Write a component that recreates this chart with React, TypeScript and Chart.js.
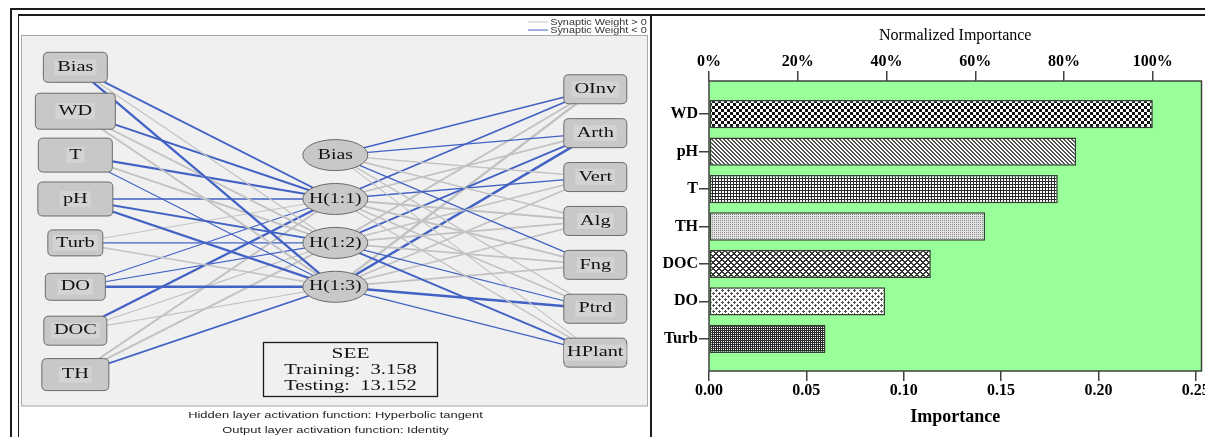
import React, { useEffect, useRef } from 'react';
import { Chart, registerables } from 'chart.js';

Chart.register(...registerables);

// ---------------- Neural network (left panel) ----------------
const inputNodes = ['Bias', 'WD', 'T', 'pH', 'Turb', 'DO', 'DOC', 'TH'];
const hiddenNodes = ['Bias', 'H(1:1)', 'H(1:2)', 'H(1:3)'];
const outputNodes = ['OInv', 'Arth', 'Vert', 'Alg', 'Fng', 'Ptrd', 'HPlant'];

// estimated synaptic weights: input -> H(1:1), H(1:2), H(1:3)
const weightsBias = [-0.7, 0.3, -0.9];
const weightsWD = [-0.7, 0.6, 0.7];
const weightsT = [-0.8, 0.7, -0.3];
const weightsPH = [-0.6, -0.7, -0.9];
const weightsTurb = [0.2, -0.4, 0.5];
const weightsDO = [-0.3, -0.3, -1.0];
const weightsDOC = [-0.9, 0.3, 0.3];
const weightsTH = [0.7, 0.8, -0.6];
const inputToHidden = [weightsBias, weightsWD, weightsT, weightsPH, weightsTurb, weightsDO, weightsDOC, weightsTH];

// estimated synaptic weights: hidden -> OInv, Arth, Vert, Alg, Fng, Ptrd, HPlant
const weightsHBias = [-0.5, -0.35, 0.4, 0.5, -0.3, 0.4, 0.3];
const weightsH1 = [-0.6, 0.6, -0.35, 0.7, 0.7, 0.5, 0.4];
const weightsH2 = [0.7, -0.6, 0.5, 0.6, 0.7, -0.35, -0.8];
const weightsH3 = [0.9, -1.0, 0.6, 0.5, 0.6, -1.0, -0.35];
const hiddenToOutput = [weightsHBias, weightsH1, weightsH2, weightsH3];

const seeTraining = 3.158;
const seeTesting = 13.152;
const hiddenActivation = 'Hyperbolic tangent';
const outputActivation = 'Identity';
const legendLabels = ['Synaptic Weight > 0', 'Synaptic Weight < 0'];

// ---------------- Importance (right panel) ----------------
const importanceLabels = ['WD', 'pH', 'T', 'TH', 'DOC', 'DO', 'Turb'];
const importanceValues = [0.2279, 0.1885, 0.1791, 0.1418, 0.1139, 0.0904, 0.0598];
const importanceTicks = [0, 0.05, 0.1, 0.15, 0.2, 0.25];
const normalizedTicks = [0, 20, 40, 60, 80, 100];

// ---------------- styles ----------------
const SERIF = '"Liberation Serif", "Times New Roman", serif';
const SANS = '"Liberation Sans", Arial, sans-serif';
const BLUE = '#4262C4';
const GRAY = '#C2C2C2';
const NODE_FILL = '#C8C8C8';
const NODE_INNER = '#D3D3D3';
const NODE_STROKE = '#6B6B6B';
const TEXT_SX = 1.45;
const inputBoxSize = [[65, 31], [81, 37], [75, 35], [76, 35], [56, 27], [61, 28], [64, 30], [68, 33]];
const outputBoxSize = [64, 30];
const hiddenRadius = [32.5, 15.5];

function layerRows(n: number) {
  const off = (inputNodes.length - n) / 2;
  return Array.from({ length: n }, (_, i) => i + off);
}

function drawText(ctx: CanvasRenderingContext2D, text: string, x: number, y: number, font: string,
  opts: { sx?: number; width?: number; align?: CanvasTextAlign; color?: string } = {}) {
  ctx.save();
  ctx.font = font;
  ctx.fillStyle = opts.color || '#111';
  ctx.textBaseline = 'middle';
  ctx.textAlign = opts.align || 'center';
  const sx = opts.width ? opts.width / ctx.measureText(text).width : (opts.sx || 1);
  ctx.translate(x, y);
  ctx.scale(sx, 1);
  ctx.fillText(text, 0, 0);
  ctx.restore();
}

function roundRect(ctx: CanvasRenderingContext2D, x: number, y: number, w: number, h: number, r: number) {
  ctx.beginPath();
  ctx.moveTo(x + r, y);
  ctx.lineTo(x + w - r, y);
  ctx.quadraticCurveTo(x + w, y, x + w, y + r);
  ctx.lineTo(x + w, y + h - r);
  ctx.quadraticCurveTo(x + w, y + h, x + w - r, y + h);
  ctx.lineTo(x + r, y + h);
  ctx.quadraticCurveTo(x, y + h, x, y + h - r);
  ctx.lineTo(x, y + r);
  ctx.quadraticCurveTo(x, y, x + r, y);
  ctx.closePath();
}

function drawBox(ctx: CanvasRenderingContext2D, cx: number, cy: number, w: number, h: number, label: string) {
  ctx.save();
  roundRect(ctx, cx - w / 2 + 0.5, cy - h / 2 + 0.5, w - 1, h - 1, 5);
  ctx.fillStyle = NODE_FILL;
  ctx.fill();
  ctx.strokeStyle = NODE_STROKE;
  ctx.lineWidth = 1;
  ctx.stroke();
  ctx.font = '14px ' + SERIF;
  const tw = ctx.measureText(label).width * TEXT_SX;
  ctx.fillStyle = NODE_INNER;
  ctx.fillRect(cx - tw / 2 - 3, cy - 8, tw + 6, 16);
  ctx.restore();
  drawText(ctx, label, cx, cy, '14px ' + SERIF, { sx: TEXT_SX });
}

function drawEllipse(ctx: CanvasRenderingContext2D, cx: number, cy: number, label: string) {
  ctx.save();
  ctx.beginPath();
  ctx.ellipse(cx, cy, hiddenRadius[0], hiddenRadius[1], 0, 0, Math.PI * 2);
  ctx.fillStyle = NODE_FILL;
  ctx.fill();
  ctx.strokeStyle = NODE_STROKE;
  ctx.lineWidth = 1;
  ctx.stroke();
  ctx.restore();
  drawText(ctx, label, cx, cy, '14px ' + SERIF, { sx: TEXT_SX * 0.97 });
}

const netFrame = {
  id: 'netFrame',
  beforeDatasetsDraw(chart: any) {
    const { ctx, chartArea: a } = chart;
    ctx.save();
    ctx.fillStyle = '#F0F0F0';
    ctx.fillRect(a.left, a.top, a.width, a.height);
    ctx.strokeStyle = '#A8A8A8';
    ctx.lineWidth = 1;
    ctx.strokeRect(a.left + 0.5, a.top + 0.5, a.width - 1, a.height - 1);
    // legend
    const ly = [a.top - 13, a.top - 5];
    [GRAY, BLUE].forEach((c, i) => {
      ctx.beginPath();
      ctx.moveTo(a.right - 120, ly[i]);
      ctx.lineTo(a.right - 100, ly[i]);
      ctx.strokeStyle = c;
      ctx.lineWidth = 1;
      ctx.stroke();
    });
    ctx.restore();
    legendLabels.forEach((t, i) => drawText(ctx, t, a.right - 1.3, ly[i], '9.5px ' + SANS, { width: 96.5, align: 'right', color: '#333' }));
    const cx = (a.left + a.right) / 2 + 1;
    drawText(ctx, 'Hidden layer activation function: ' + hiddenActivation, cx, a.bottom + 9.2, '9px ' + SANS, { width: 294.7, color: '#222' });
    drawText(ctx, 'Output layer activation function: ' + outputActivation, cx, a.bottom + 24.5, '9px ' + SANS, { width: 226.6, color: '#222' });
  },
  afterDatasetsDraw(chart: any) {
    const { ctx, chartArea: a } = chart;
    chart.data.datasets.forEach((ds: any, di: number) => {
      if (!ds.nodeKind) return;
      const meta = chart.getDatasetMeta(di);
      meta.data.forEach((pt: any, i: number) => {
        if (ds.nodeKind === 'input') drawBox(ctx, pt.x, pt.y, inputBoxSize[i][0], inputBoxSize[i][1], inputNodes[i]);
        else if (ds.nodeKind === 'hidden') drawEllipse(ctx, pt.x, pt.y, hiddenNodes[i]);
        else drawBox(ctx, pt.x, pt.y, outputBoxSize[0], outputBoxSize[1], outputNodes[i]);
      });
    });
    // SEE box
    const bx = a.left + 242, by = a.top + 307, bw = 174, bh = 54;
    ctx.save();
    ctx.fillStyle = '#F0F0F0';
    ctx.fillRect(bx, by, bw, bh);
    ctx.strokeStyle = '#1A1A1A';
    ctx.lineWidth = 1.3;
    ctx.strokeRect(bx + 0.5, by + 0.5, bw, bh);
    ctx.restore();
    const tx = bx + bw / 2 + 0.5;
    drawText(ctx, 'SEE', tx, by + 12, '14px ' + SERIF, { width: 38 });
    drawText(ctx, 'Training:  ' + seeTraining.toFixed(3), tx, by + 28, '14px ' + SERIF, { width: 132.7 });
    drawText(ctx, 'Testing:  ' + seeTesting.toFixed(3), tx, by + 44, '14px ' + SERIF, { width: 132.7 });
  },
};

function netConfig(): any {
  const inRows = layerRows(inputNodes.length);
  const hidRows = layerRows(hiddenNodes.length);
  const outRows = layerRows(outputNodes.length);
  const edges: any[] = [];
  inputToHidden.forEach((row, i) => row.forEach((w, j) =>
    edges.push({ a: { x: 0, y: inRows[i] }, b: { x: 1, y: hidRows[j + 1] }, w })));
  hiddenToOutput.forEach((row, h) => row.forEach((w, k) =>
    edges.push({ a: { x: 1, y: hidRows[h] }, b: { x: 2, y: outRows[k] }, w })));
  const edgeSets = edges.map((e) => ({
    type: 'line',
    data: [e.a, e.b],
    borderColor: e.w > 0 ? GRAY : BLUE,
    borderWidth: 0.6 + 1.9 * Math.abs(e.w),
    pointRadius: 0,
    showLine: true,
    fill: false,
    tension: 0,
  }));
  const nodeSets = [
    { type: 'scatter', nodeKind: 'input', data: inputNodes.map((_, i) => ({ x: 0, y: inRows[i] })), pointRadius: 0 },
    { type: 'scatter', nodeKind: 'hidden', data: hiddenNodes.map((_, i) => ({ x: 1, y: hidRows[i] })), pointRadius: 0 },
    { type: 'scatter', nodeKind: 'output', data: outputNodes.map((_, i) => ({ x: 2, y: outRows[i] })), pointRadius: 0 },
  ];
  return {
    type: 'scatter',
    data: { datasets: [...edgeSets, ...nodeSets] },
    options: {
      animation: false,
      responsive: false,
      devicePixelRatio: 1,
      events: [],
      layout: { padding: { left: 2, right: 2, top: 19, bottom: 30.5 } },
      plugins: { legend: { display: false }, tooltip: { enabled: false } },
      scales: {
        x: { type: 'linear', display: false, min: -0.209, max: 2.2027 },
        y: { type: 'linear', display: false, reverse: true, min: -0.736, max: 7.727 },
      },
    },
    plugins: [netFrame],
  };
}

// ---------------- patterns for the bars ----------------
function tile(w: number, h: number, paint: (g: CanvasRenderingContext2D) => void) {
  const c = document.createElement('canvas');
  c.width = w;
  c.height = h;
  const g = c.getContext('2d')!;
  g.fillStyle = '#ffffff';
  g.fillRect(0, 0, w, h);
  paint(g);
  return c;
}

function makePatterns(ctx: CanvasRenderingContext2D) {
  const checker = tile(6, 6, (g) => { g.fillStyle = '#111'; g.fillRect(0, 0, 3, 3); g.fillRect(3, 3, 3, 3); });
  const diag = tile(4, 4, (g) => { g.fillStyle = '#555'; for (let i = 0; i < 4; i++) { g.fillRect(i, i, 1, 1); g.fillRect((i + 1) % 4, i, 1, 1); } });
  const grid = tile(3, 3, (g) => { g.fillStyle = '#2a2a2a'; g.fillRect(0, 0, 3, 1); g.fillRect(0, 0, 1, 3); });
  const dots = tile(2, 2, (g) => { g.fillStyle = '#e2e2e2'; g.fillRect(0, 0, 2, 2); g.fillStyle = '#8c8c8c'; g.fillRect(0, 0, 1, 1); });
  const lattice = tile(6, 6, (g) => {
    g.fillStyle = '#333';
    for (let x = 0; x < 6; x++) for (let y = 0; y < 6; y++) {
      if ((x + y) % 6 < 2 || (x - y + 6) % 6 < 2) g.fillRect(x, y, 1, 1);
    }
  });
  const diamonds = tile(6, 6, (g) => {
    g.fillStyle = '#555';
    [[1, 1], [4, 4]].forEach(([cx, cy]) => {
      g.fillRect(cx, cy - 1, 1, 3);
      g.fillRect(cx - 1, cy, 3, 1);
    });
  });
  const dense = tile(2, 2, (g) => { g.fillStyle = '#262626'; g.fillRect(0, 0, 2, 1); g.fillRect(0, 0, 1, 2); });
  return [checker, diag, grid, dots, lattice, diamonds, dense].map((c) => ctx.createPattern(c, 'repeat'));
}

const plotFrame = {
  id: 'plotFrame',
  beforeDraw(chart: any) {
    const { ctx, chartArea: a } = chart;
    ctx.save();
    ctx.fillStyle = '#99FF99';
    ctx.fillRect(a.left, a.top, a.width, a.height);
    ctx.restore();
  },
  afterDraw(chart: any) {
    const { ctx, chartArea: a } = chart;
    ctx.save();
    ctx.strokeStyle = '#404040';
    ctx.lineWidth = 1.5;
    ctx.strokeRect(a.left, a.top, a.width, a.height);
    ctx.restore();
  },
};

function barConfig(ctx: CanvasRenderingContext2D): any {
  const tickFont = { family: SERIF, size: 16, weight: 'bold' };
  const grid = { display: true, drawOnChartArea: false, drawTicks: true, tickLength: 10, color: '#404040', lineWidth: 1.5, offset: false };
  const xMax = 0.2529;
  const normMax = (xMax / Math.max(...importanceValues)) * 100;
  return {
    type: 'bar',
    data: {
      datasets: [{
        data: importanceValues.map((v, i) => ({ x: v, y: i })),
        backgroundColor: makePatterns(ctx),
        borderColor: '#3a3a3a',
        borderWidth: 1.5,
        borderSkipped: false,
        categoryPercentage: 1,
        barPercentage: 0.756,
        xAxisID: 'x',
        yAxisID: 'y',
      }],
    },
    options: {
      indexAxis: 'y',
      animation: false,
      responsive: false,
      devicePixelRatio: 1,
      events: [],
      layout: { padding: { left: 0, right: 3.5, top: 0, bottom: 0 } },
      plugins: { legend: { display: false }, tooltip: { enabled: false } },
      scales: {
        y: {
          type: 'linear',
          position: 'left',
          reverse: true,
          offset: false,
          bounds: 'data',
          min: -0.887,
          max: 6.861,
          afterBuildTicks: (axis: any) => { axis.ticks = importanceLabels.map((_, i) => ({ value: i })); },
          ticks: { callback: (v: any) => importanceLabels[v] ?? '', font: tickFont, color: '#000', padding: 1, autoSkip: false },
          grid,
          border: { display: false },
          afterFit: (s: any) => { s.width = 57; s.paddingTop = 0; s.paddingBottom = 0; },
        },
        x: {
          type: 'linear',
          position: 'bottom',
          offset: false,
          bounds: 'data',
          min: 0,
          max: xMax,
          afterBuildTicks: (axis: any) => { axis.ticks = importanceTicks.map((v) => ({ value: v })); },
          ticks: { callback: (v: any) => Number(v).toFixed(2), font: tickFont, color: '#000', padding: 0, autoSkip: false, maxRotation: 0 },
          title: { display: true, text: 'Importance', color: '#000', font: { family: SERIF, size: 18, weight: 'bold' }, padding: { top: 0, bottom: 9.2 } },
          grid,
          border: { display: false },
          afterFit: (s: any) => { s.height = 66; s.paddingLeft = 0; s.paddingRight = 0; },
        },
        x2: {
          type: 'linear',
          position: 'top',
          offset: false,
          bounds: 'data',
          min: 0,
          max: normMax,
          afterBuildTicks: (axis: any) => { axis.ticks = normalizedTicks.map((v) => ({ value: v })); },
          ticks: { callback: (v: any) => v + '%', font: tickFont, color: '#000', padding: 0, autoSkip: false, maxRotation: 0 },
          title: { display: true, text: 'Normalized Importance', color: '#000', font: { family: SERIF, size: 16 }, padding: { top: 10.4, bottom: 0 } },
          grid,
          border: { display: false },
          afterFit: (s: any) => { s.height = 65; s.paddingLeft = 0; s.paddingRight = 0; },
        },
      },
    },
    plugins: [plotFrame],
  };
}

const line = (left: number, top: number, width: number, height: number, bg = '#1c1c1c') => (
  <div style={{ position: 'absolute', left, top, width, height, background: bg }} />
);

export default function App() {
  const netRef = useRef<HTMLCanvasElement>(null);
  const barRef = useRef<HTMLCanvasElement>(null);
  useEffect(() => {
    document.body.style.margin = '0';
    const net = new Chart(netRef.current!, netConfig());
    const bar = new Chart(barRef.current!, barConfig(barRef.current!.getContext('2d')!));
    return () => { net.destroy(); bar.destroy(); };
  }, []);
  return (
    <div style={{ position: 'absolute', left: 0, top: 0, width: 1205, height: 437, background: '#fff', overflow: 'hidden' }}>
      {line(10, 8, 1195, 2)}
      {line(10, 8, 2, 429)}
      {line(18, 14, 1187, 2)}
      {line(18, 14, 1, 423)}
      {line(650, 14, 2, 423)}
      <canvas ref={netRef} width={631} height={421} style={{ position: 'absolute', left: 19, top: 16, width: 631, height: 421 }} />
      <canvas ref={barRef} width={553} height={421} style={{ position: 'absolute', left: 652, top: 16, width: 553, height: 421 }} />
    </div>
  );
}
